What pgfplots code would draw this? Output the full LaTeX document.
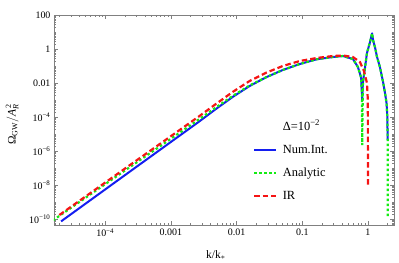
\documentclass[border=0pt]{standalone}
\usepackage{fontspec}
\setmainfont{Liberation Serif}
\usepackage{amsmath}
\usepackage{pgfplots}
\pgfplotsset{compat=1.18}
\definecolor{mblue}{RGB}{20,30,240}
\definecolor{mgreen}{RGB}{20,235,20}
\definecolor{mred}{RGB}{245,20,20}
\def\minx{}
\foreach \e in {-5,-4,-3,-2,-1,0}{\foreach \m in {2,3,4,5,6,7,8,9}{\xdef\minx{\minx\m e\e,}}}
\xdef\minx{\minx 1e2}
\def\miny{}
\foreach \e in {-11,-10,-9,-8,-7,-6,-5,-4,-3,-2,-1,0,1}{\foreach \m in {1,2,3,4,5,6,7,8,9}{\xdef\miny{\miny\m e\e,}}}
\xdef\miny{\miny 1e3}
\begin{document}
\begin{tikzpicture}
\useasboundingbox (-54bp,-38bp) rectangle (345bp,225bp);
\begin{axis}[
  scale only axis, width=340bp, height=210bp,
  at={(0,0)}, anchor=south west,
  xmode=log, ymode=log,
  xmin=1.66e-5, xmax=2.49, ymin=4.47e-11, ymax=100,
  axis line style={gray}, every tick/.style={gray, line width=0.5bp},
  major tick length=4bp, minor tick length=2bp,
  xtick={1e-4,1e-3,1e-2,1e-1,1},
  xticklabels={10\textsuperscript{−4},0.001,0.01,0.1,1},
  ytick={1e-10,1e-8,1e-6,1e-4,1e-2,1,100},
  yticklabels={10\textsuperscript{−10},10\textsuperscript{−8},10\textsuperscript{−6},10\textsuperscript{−4},0.01,1,100},
  minor xtick/.expanded={\minx},
  minor ytick/.expanded={\miny},
  ticklabel style={font=\fontsize{10}{12}\selectfont, black},
  xlabel={k/k$_*$},
  ylabel={$\text{Ω}_{\text{GW}}/\text{\textit{A}}_{\text{\textit{R}}}^{\,\text{2}}$},
  label style={font=\fontsize{11.5}{13}\selectfont},
  xlabel style={at={(axis description cs:0.476,-0.143)}, anchor=center},
  ylabel style={at={(axis description cs:-0.123,0.48)}, anchor=center},
  legend style={draw=none, fill=none, font=\fontsize{12.5}{14}\selectfont,
    at={(axis description cs:0.585,0.503)}, anchor=north west,
    inner sep=0pt, row sep=8bp,
    nodes={text height=9bp, text depth=3bp, inner sep=1.5bp}},
  legend cell align=left,
  legend image code/.code={\draw[#1] (0bp,0bp) -- (22bp,0bp);},
  every axis legend/.append style={/tikz/every odd column/.append style={column sep=4bp}},
]
\addlegendimage{empty legend}
\addlegendentry{Δ=10\textsuperscript{−2}}
\addplot[mblue, line width=2bp, line join=round] coordinates {
(2.13e-5,7.33e-11) (2.32e-4,5.82e-8) (2.72e-3,5.58e-5) (4.95e-3,3.16e-4)
(8.69e-3,1.50e-3) (0.01578,6.67e-3) (0.0287,0.02254) (0.0504,0.0582)
(0.0916,0.131) (0.1663,0.25) (0.292,0.338) (0.415,0.387) (0.590,0.258)
(0.703,0.0873) (0.782,0.02254) (0.81,2.58e-3) (0.8165,1e-3) (0.838,0.01148)
(0.90,0.0759) (0.965,0.575) (1.073,2.57) (1.155,8.3) (1.2,3.16) (1.28,1.26)
(1.37,0.355) (1.52,0.0871) (1.69,0.0126) (1.82,2.51e-3) (1.92,6.3e-4)
(1.97,1e-4) (1.99,1e-5) (1.997,4.5e-6)
};
\addlegendentry{Num.Int.}
\addplot[mgreen, line width=2.2bp, dash pattern=on 2.5bp off 2.5bp] coordinates {
(1.6e-5,8.4e-11) (2.32e-4,1.07e-7) (2.72e-3,7.62e-5) (4.95e-3,3.87e-4)
(8.69e-3,1.72e-3) (0.01578,7.13e-3) (0.0287,0.02254) (0.0504,0.0582)
(0.0916,0.131) (0.1663,0.25) (0.292,0.338) (0.415,0.387) (0.590,0.258)
(0.703,0.0873) (0.782,0.02254) (0.81,2.58e-3) (0.8165,2.24e-6) (0.838,0.01148)
(0.90,0.0759) (0.965,0.575) (1.073,2.57) (1.155,8.3) (1.2,3.16) (1.28,1.26)
(1.37,0.355) (1.52,0.0871) (1.69,0.0126) (1.82,2.51e-3) (1.92,6.3e-4)
(1.97,1e-4) (1.99,1e-5) (1.997,4.5e-6) (1.9985,1e-6) (1.99995,1.1e-10)
};
\addlegendentry{Analytic}
\addplot[mred, line width=2.2bp, dash pattern=on 5.5bp off 3bp] coordinates {
(2.0e-5,1.72e-10) (2.32e-4,1.40e-7) (2.72e-3,1.146e-4) (4.95e-3,6.22e-4)
(8.69e-3,2.96e-3) (0.01578,0.01312) (0.0287,0.0415) (0.0504,0.1)
(0.0916,0.197) (0.1663,0.296) (0.292,0.387) (0.415,0.415) (0.590,0.338)
(0.755,0.172) (0.869,0.0508) (0.966,0.01) (0.995,1e-3) (0.9995,1e-8)
};
\addlegendentry{IR}
\end{axis}
\end{tikzpicture}
\end{document}
